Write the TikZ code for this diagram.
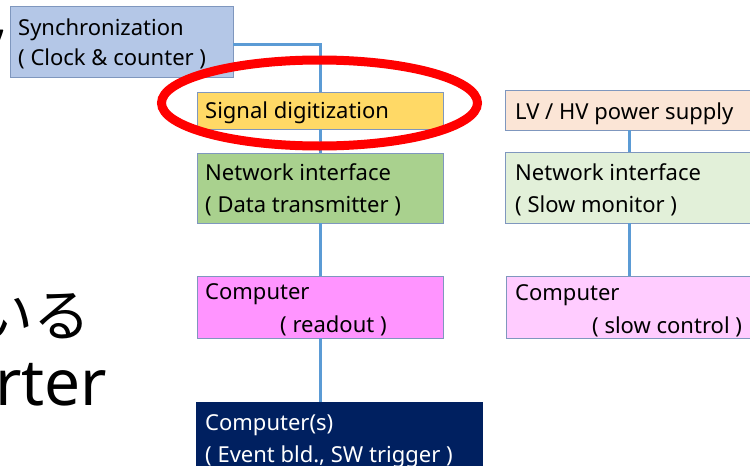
\documentclass[tikz,border=0pt]{standalone}
\usepackage{fontspec}
\setmainfont{Noto Sans}
\newfontfamily\cjkfont{Noto Sans CJK JP}
\usetikzlibrary{calc}
\definecolor{bordc}{HTML}{7F97BE}
\definecolor{linec}{HTML}{5B9BD5}
\definecolor{syncc}{HTML}{B4C7E7}
\definecolor{sigc}{HTML}{FFD966}
\definecolor{netdc}{HTML}{A9D18E}
\definecolor{compc}{HTML}{FF94FF}
\definecolor{evbc}{HTML}{002060}
\definecolor{lvc}{HTML}{FBE5D6}
\definecolor{netsc}{HTML}{E2F0D9}
\definecolor{compsc}{HTML}{FFCCFF}
\begin{document}
\begin{tikzpicture}[x=1pt,y=-1pt,
  box/.style={draw=bordc, line width=0.9pt, anchor=north west, inner sep=0pt, outer sep=0pt},
  txt/.style={anchor=base west, inner sep=0pt, font=\fontsize{22}{26}\selectfont, text=black},
  conn/.style={draw=linec, line width=3pt},
  big/.style={inner sep=0pt, font=\fontsize{64}{70}\selectfont}]
\useasboundingbox (0,0) rectangle (750,466);
\clip (0,0) rectangle (750,466);
\fill[white] (0,0) rectangle (750,466);

% partial large text at the left edge
\node[big, anchor=base west] (comma) at (-9,37) {,};
\node[big, anchor=base east, font=\cjkfont\fontsize{57}{62}\selectfont] (iru) at (91,336) {いる};
\node[big, anchor=base west] (rter) at (-5,405) {rter};

% boxes
\node[box, fill=syncc, minimum width=223pt, minimum height=71pt] (sync) at (10,6) {};
\node[box, fill=sigc, minimum width=246pt, minimum height=37pt] (sig) at (197,92) {};
\node[box, fill=netdc, minimum width=246pt, minimum height=70pt] (netd) at (197,153) {};
\node[box, fill=compc, minimum width=246pt, minimum height=62pt] (comp) at (197,276) {};
\node[box, fill=evbc, draw=evbc, minimum width=286pt, minimum height=80pt] (evb) at (196,402) {};
\node[box, fill=lvc, minimum width=248pt, minimum height=40pt] (lv) at (505,90) {};
\node[box, fill=netsc, minimum width=248pt, minimum height=71pt] (nets) at (505,152) {};
\node[box, fill=compsc, minimum width=246pt, minimum height=62pt] (comps) at (506,276) {};

% connectors
\draw[conn] ([yshift=-2.5pt]sync.east) -| (sig.north);
\draw[conn] (sig.south) -- (netd.north);
\draw[conn] (netd.south) -- (comp.north);
\draw[conn] (comp.south) -- (comp.south |- evb.north);
\draw[conn] (lv.south) -- (lv.south |- nets.north);
\draw[conn] (nets.south) -- (nets.south |- comps.north);

% texts
\node[txt] (t1) at (18,35) {Synchronization};
\node[txt] (t2) at (18,65) {( Clock \& counter )};
\node[txt] (t3) at (205,118) {Signal digitization};
\node[txt] (t4) at (205,180) {Network interface};
\node[txt] (t5) at (205,212) {( Data transmitter )};
\node[txt] (t6) at (205,299) {Computer};
\node[txt] (t7) at (280,332) {( readout )};
\node[txt, text=white] (t8) at (205,430) {Computer(s)};
\node[txt, text=white] (t9) at (205,462) {( Event bld., SW trigger )};
\node[txt] (t10) at (515,119) {LV / HV power supply};
\node[txt] (t11) at (515,180) {Network interface};
\node[txt] (t12) at (515,212) {( Slow monitor )};
\node[txt] (t13) at (515,300) {Computer};
\node[txt] (t14) at (592,333) {( slow control )};

% red highlight ellipse
\draw[red, line width=9pt] (319.5,103) ellipse [x radius=158pt, y radius=43pt];
\end{tikzpicture}
\end{document}
